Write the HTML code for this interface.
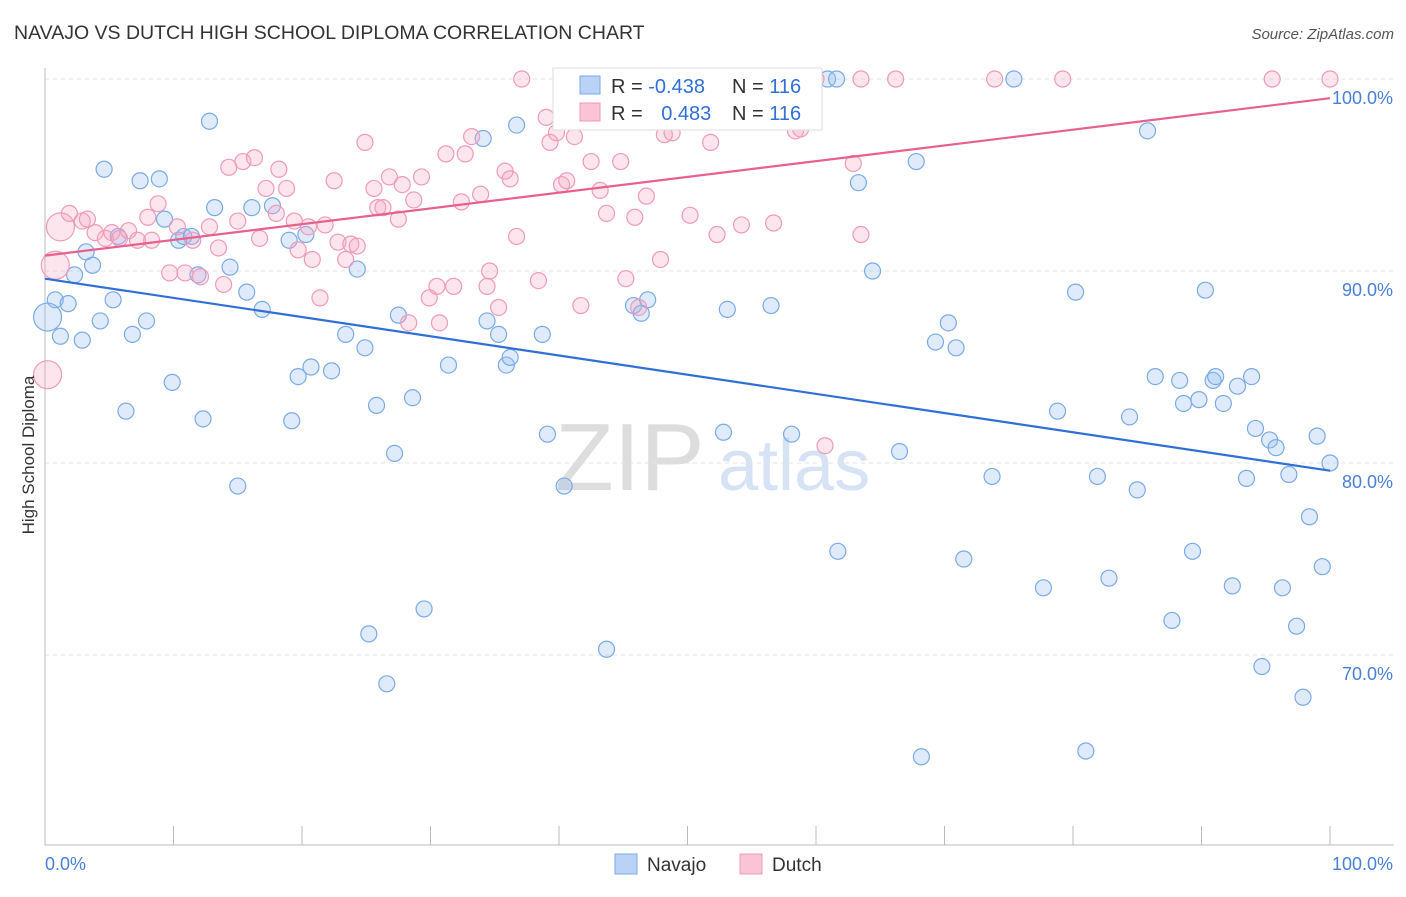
<!DOCTYPE html>
<html><head><meta charset="utf-8"><style>
body{margin:0;background:#fff;font-family:"Liberation Sans",sans-serif}
svg text{font-family:"Liberation Sans",sans-serif}
</style></head><body>
<svg id="chart" width="1406" height="892" viewBox="0 0 1406 892" xmlns="http://www.w3.org/2000/svg">
<text x="14" y="39" font-size="19.5" fill="#333">NAVAJO VS DUTCH HIGH SCHOOL DIPLOMA CORRELATION CHART</text>
<text x="1394" y="39" font-size="15" fill="#555" text-anchor="end" font-style="italic">Source: ZipAtlas.com</text>
<g><text x="555" y="490" font-size="96" fill="#ddd" font-family="Liberation Serif">ZIP</text><text x="718" y="490" font-size="72" fill="#d6e3f5">atlas</text></g>
<g id="grid"></g>
<g id="axes"></g>
<g id="pts"></g>
<g id="lines"></g>
<g>
<rect x="553" y="68" width="269" height="62" fill="#fff" stroke="#ddd"/>
<rect x="580" y="76" width="20" height="18" fill="#b9d2f5" stroke="#7aaae8"/>
<rect x="580" y="103" width="20" height="18" fill="#f9c4d5" stroke="#ef9ab8"/>
<text x="611" y="93" font-size="20" fill="#333">R = <tspan fill="#2f6fd6">-0.438</tspan></text>
<text x="732" y="93" font-size="20" fill="#333">N = <tspan fill="#2f6fd6">116</tspan></text>
<text x="611" y="120" font-size="20" fill="#333">R = <tspan fill="#2f6fd6" dx="13">0.483</tspan></text>
<text x="732" y="120" font-size="20" fill="#333">N = <tspan fill="#2f6fd6">116</tspan></text>
</g>
<g>
<rect x="615" y="854" width="22" height="20" fill="#b9d2f5" stroke="#7aaae8"/>
<text x="647" y="871" font-size="19" fill="#333">Navajo</text>
<rect x="740" y="854" width="22" height="20" fill="#f9c4d5" stroke="#ef9ab8"/>
<text x="772" y="871" font-size="19" fill="#333">Dutch</text>
</g>
<text transform="translate(34,455) rotate(-90)" font-size="17" fill="#333" text-anchor="middle">High School Diploma</text>
</svg>
<script>
const navajoX=[0.8,1.8,0.2,1.2,2.9,2.3,3.2,3.7,4.6,4.3,5.3,5.7,6.3,6.8,7.4,7.9,8.9,9.3,9.9,10.4,10.8,11.4,11.9,12.3,12.8,13.2,14.4,15.0,15.7,16.1,16.9,17.7,19.0,19.2,19.7,20.3,20.7,22.3,23.4,24.3,24.9,25.2,25.8,26.6,27.2,27.5,28.6,29.5,31.4,34.1,34.4,35.3,35.9,36.2,36.7,38.7,39.1,40.4,43.7,45.8,46.4,46.9,52.4,52.8,53.1,56.5,58.1,60.9,61.6,61.7,63.3,64.4,66.5,67.8,68.2,69.3,70.3,70.9,71.5,73.7,75.4,77.7,78.8,80.2,81.0,81.9,82.8,84.4,85.0,85.8,86.4,87.7,88.3,88.6,89.3,89.8,90.3,90.9,91.1,91.7,92.4,92.8,93.5,93.9,94.2,94.7,95.3,95.8,96.3,96.8,97.4,97.9,98.4,99.0,99.4,100];
const navajoY=[88.5,88.3,87.6,86.6,86.4,89.8,91.0,90.3,95.3,87.4,88.5,91.8,82.7,86.7,94.7,87.4,94.8,92.7,84.2,91.6,91.8,91.8,89.8,82.3,97.8,93.3,90.2,78.8,88.9,93.3,88.0,93.4,91.6,82.2,84.5,91.9,85.0,84.8,86.7,90.1,86.0,71.1,83.0,68.5,80.5,87.7,83.4,72.4,85.1,96.9,87.4,86.7,85.1,85.5,97.6,86.7,81.5,78.8,70.3,88.2,87.8,88.5,100,81.6,88.0,88.2,81.5,100,100,75.4,94.6,90.0,80.6,95.7,64.7,86.3,87.3,86.0,75.0,79.3,100,73.5,82.7,88.9,65.0,79.3,74.0,82.4,78.6,97.3,84.5,71.8,84.3,83.1,75.4,83.3,89.0,84.3,84.5,83.1,73.6,84.0,79.2,84.5,81.8,69.4,81.2,80.8,73.5,79.4,71.5,67.8,77.2,81.4,74.6,80.0];
const dutchX=[1.2,0.8,0.2,1.9,2.9,3.3,3.9,4.7,5.2,5.8,6.5,7.2,8.0,8.3,8.8,9.7,10.3,10.9,11.5,12.1,12.8,13.5,13.9,14.3,15.0,15.4,16.3,16.7,17.2,18.0,18.2,18.8,19.4,19.7,20.5,20.8,21.4,21.8,22.5,22.8,23.4,23.8,24.3,24.9,25.6,25.9,26.3,26.8,27.5,27.8,28.3,28.7,29.3,29.9,30.5,30.7,31.2,31.8,32.4,32.7,33.2,33.9,34.4,34.6,35.3,35.8,36.2,36.7,37.1,38.4,39.0,39.3,39.8,40.2,40.6,41.2,41.7,42.5,43.2,43.7,44.8,45.2,45.9,46.2,46.8,47.9,48.2,48.8,50.2,51.8,52.3,52.9,54.2,56.7,58.4,58.8,60.0,60.7,62.9,63.5,63.5,66.2,73.9,79.2,95.5,100];
const dutchY=[92.3,90.3,84.6,93.0,92.6,92.7,92.0,91.7,92.0,91.7,92.1,91.6,92.8,91.6,93.5,89.9,92.3,89.9,91.6,89.7,92.3,91.2,89.3,95.4,92.6,95.7,95.9,91.7,94.3,93.0,95.3,94.3,92.6,91.1,92.3,90.6,88.6,92.4,94.7,91.5,90.6,91.4,91.3,96.7,94.3,93.3,93.3,94.9,92.7,94.5,87.3,93.7,94.9,88.6,89.2,87.3,96.1,89.2,93.6,96.1,97.0,94.0,89.2,90.0,88.1,95.2,94.8,91.8,100,89.5,98.0,96.7,97.2,94.5,94.7,97.0,88.2,95.7,94.2,93.0,95.7,89.6,92.8,88.1,93.9,90.6,97.1,97.2,92.9,96.7,91.9,98.8,92.4,92.5,97.3,97.4,100,80.9,95.6,100,91.9,100,100,100,100,100];
const navajoLine=[89.6,79.6];
const dutchLine=[90.8,99.0];
const yTicks=[100,90,80,70];
const yTickLabels=["100.0%","90.0%","80.0%","70.0%"];
const xTicks=[0,10,20,30,40,50,60,70,80,90,100];

const NS="http://www.w3.org/2000/svg";
const sx=v=>45+v*12.85;
const sy=v=>79+(100-v)*19.2;
function mk(tag,attrs,parent){const e=document.createElementNS(NS,tag);for(const k in attrs)e.setAttribute(k,attrs[k]);document.getElementById(parent).appendChild(e);return e;}
yTicks.forEach((t,i)=>{
  const l=mk('line',{x1:45,x2:1394,y1:sy(t),y2:sy(t),stroke:'#e3e3e3','stroke-dasharray':'4,4'},'grid');
  
  
  const tx=mk('text',{x:1393,y:sy(t)+25,'font-size':18,fill:'#4a7fd8','text-anchor':'end'},'grid');
  tx.textContent=yTickLabels[i];
  
  
});
const ax=mk('line',{x1:45,x2:1394,y1:845,y2:845,stroke:'#bbb'},'axes');


const ay=mk('line',{x1:45,x2:45,y1:68,y2:845,stroke:'#bbb'},'axes');


xTicks.forEach(t=>{
  const l=mk('line',{x1:sx(t),x2:sx(t),y1:826,y2:845,stroke:'#bbb'},'axes');
  
  
});
const x0=mk('text',{x:45,y:870,'font-size':18,fill:'#4a7fd8'},'axes');x0.textContent='0.0%';


const x1=mk('text',{x:1393,y:870,'font-size':18,fill:'#4a7fd8','text-anchor':'end'},'axes');x1.textContent='100.0%';


navajoX.forEach((x,i)=>{
  const c=mk('circle',{cx:sx(x),cy:sy(navajoY[i]),r:(i==2?14:8),fill:'rgba(150,190,240,0.3)',stroke:'#7aaae8','stroke-width':1.2},'pts');
  
  
});
dutchX.forEach((x,i)=>{
  const c=mk('circle',{cx:sx(x),cy:sy(dutchY[i]),r:(i<3?14:8),fill:'rgba(245,170,195,0.3)',stroke:'#ef9ab8','stroke-width':1.2},'pts');
  
  
});
const nl=mk('line',{x1:sx(0),y1:sy(navajoLine[0]),x2:sx(100),y2:sy(navajoLine[1]),stroke:'#2f6fd6','stroke-width':2.2},'lines');


const dl=mk('line',{x1:sx(0),y1:sy(dutchLine[0]),x2:sx(100),y2:sy(dutchLine[1]),stroke:'#e8608f','stroke-width':2.2},'lines');


</script>
</body></html>
